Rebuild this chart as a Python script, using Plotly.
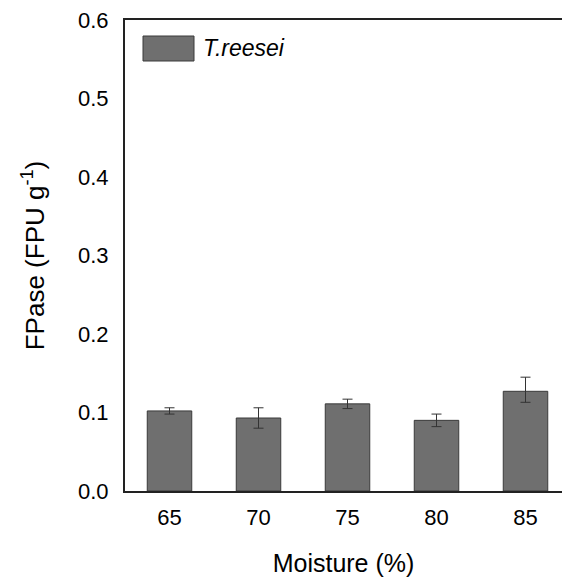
import plotly.graph_objects as go

moisture = [65, 70, 75, 80, 85]
fpase = [0.102, 0.093, 0.111, 0.090, 0.127]
err_plus = [0.004, 0.013, 0.006, 0.008, 0.018]
err_minus = [0.004, 0.013, 0.006, 0.008, 0.014]
series_name = "T.reesei"

W, H = 562, 577
ml, mr, mt, mb = 125, 0, 20, 86
pw, ph = W - ml - mr, H - mt - mb

def px(x):
    return (x - ml) / pw

def py(y):
    return (H - mb - y) / ph

fig = go.Figure()
fig.add_trace(go.Bar(
    x=moisture, y=fpase, width=2.5,
    marker=dict(color="#6f6f6f", line=dict(color="#3a3a3a", width=1)),
    error_y=dict(type="data", symmetric=False, array=err_plus, arrayminus=err_minus,
                 color="#333333", thickness=1, width=5),
    name=series_name, showlegend=False,
))

font_family = "Liberation Sans, Arial, sans-serif"
fig.update_layout(
    width=W, height=H,
    margin=dict(l=ml, r=mr, t=mt, b=mb),
    paper_bgcolor="white", plot_bgcolor="white",
    font=dict(family=font_family, color="black"),
    xaxis=dict(
        range=[62.5, 87.05], tickvals=moisture, ticktext=[str(m) for m in moisture],
        showline=True, linecolor="#222", linewidth=2, mirror=True,
        showgrid=False, zeroline=False,
        ticks="outside", ticklen=6, tickcolor="rgba(0,0,0,0)",
        tickfont=dict(size=22),
        title=dict(text="Moisture (%)", font=dict(size=25), standoff=26),
    ),
    yaxis=dict(
        range=[0, 0.6], tickvals=[0, 0.1, 0.2, 0.3, 0.4, 0.5, 0.6],
        ticktext=["0.0", "0.1", "0.2", "0.3", "0.4", "0.5", "0.6"],
        showline=True, linecolor="#222", linewidth=2,
        showgrid=False, zeroline=False,
        ticks="outside", ticklen=10, tickcolor="rgba(0,0,0,0)",
        tickfont=dict(size=22),
        title=dict(text="FPase (FPU g<sup>-1</sup>)", font=dict(size=26), standoff=26),
    ),
)

# legend swatch and label
fig.add_shape(type="rect", xref="paper", yref="paper",
              x0=px(143), x1=px(194), y0=py(61), y1=py(36),
              fillcolor="#6f6f6f", line=dict(color="#3a3a3a", width=1))
fig.add_annotation(xref="paper", yref="paper", x=px(201), y=py(48.5),
                   xanchor="left", yanchor="middle", showarrow=False,
                   text="<i>" + series_name + "</i>", font=dict(size=23, color="black"))

fig.write_html("out.html")
